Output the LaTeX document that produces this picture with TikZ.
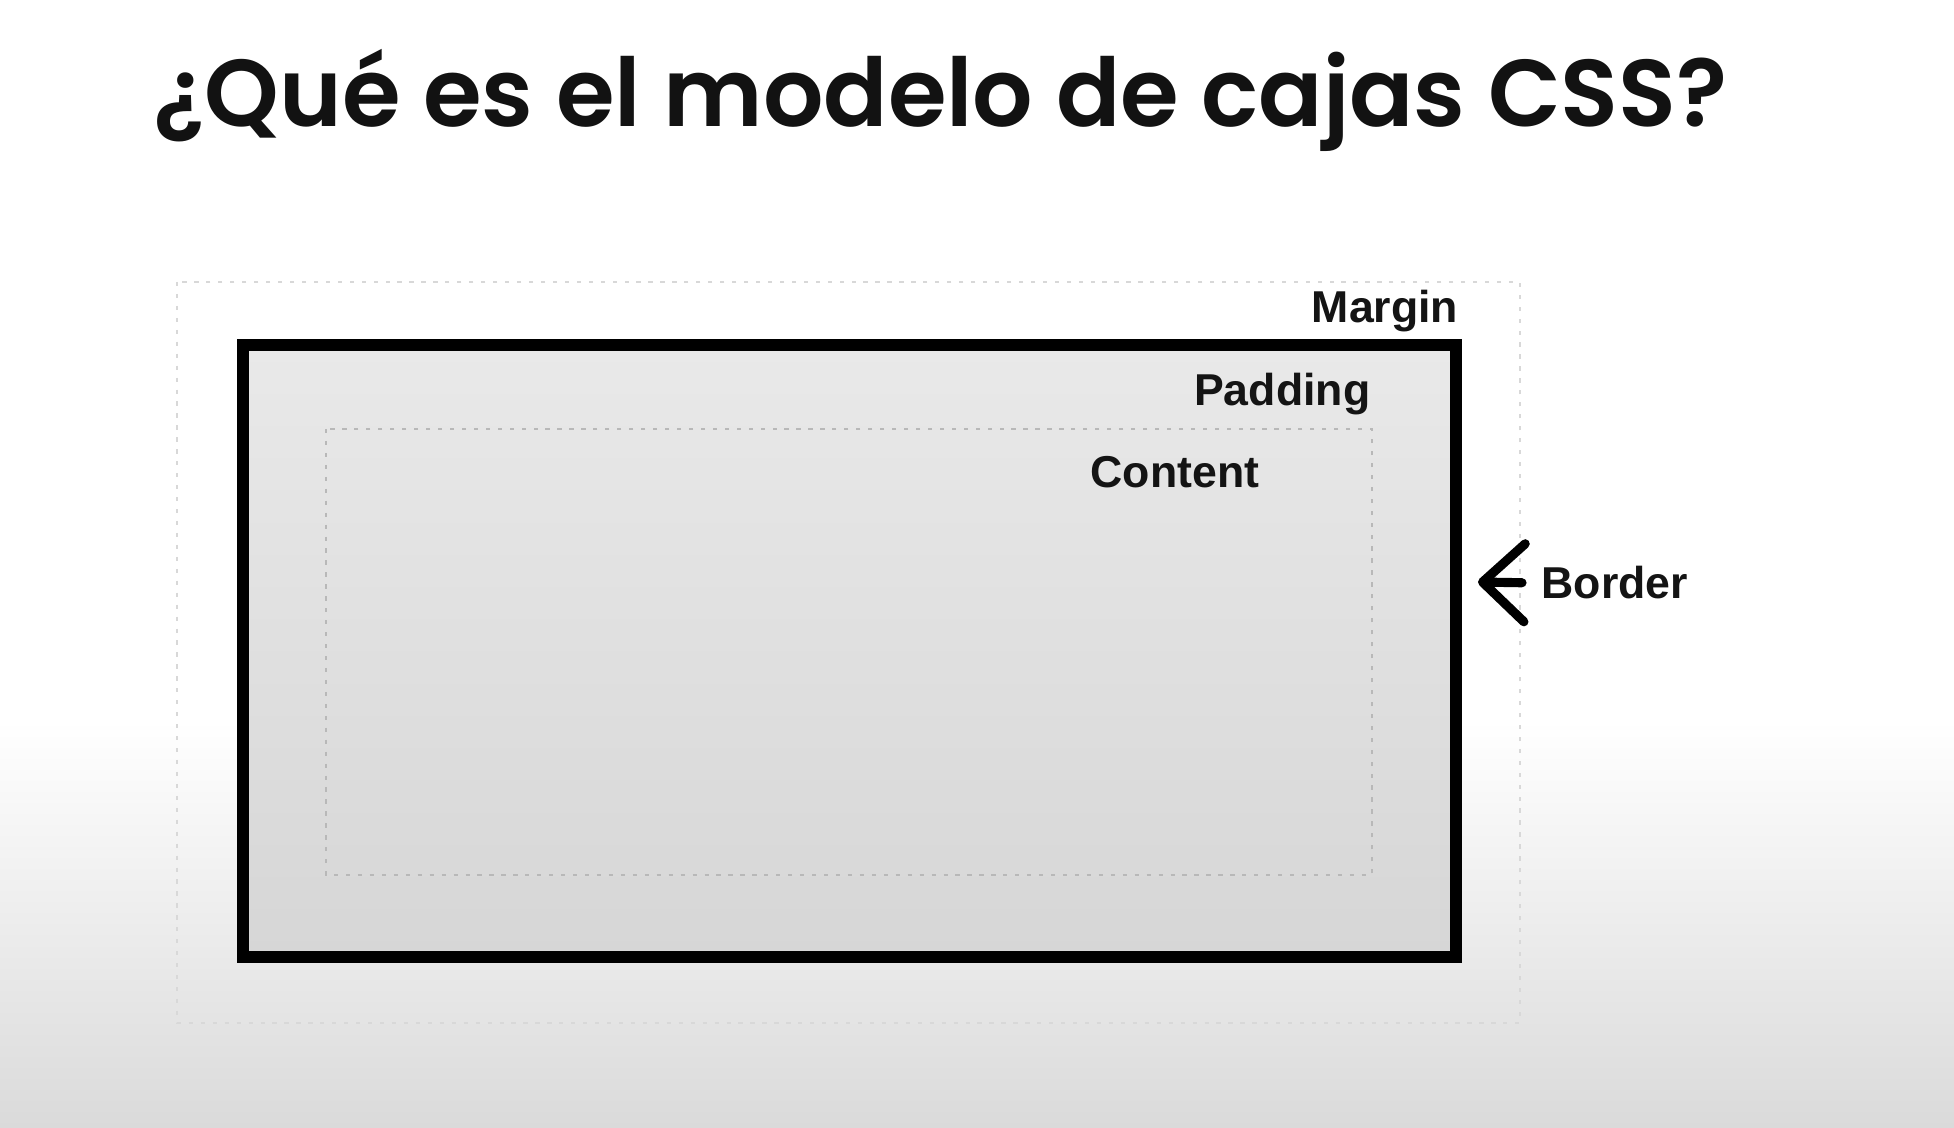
\documentclass[tikz,border=0pt]{standalone}
\usepackage{fontspec}
\newfontfamily\titlefont{Poppins}[BoldFont={Poppins SemiBold}]
\newfontfamily\labelfont{Liberation Sans}
\usetikzlibrary{arrows.meta}
\definecolor{bgbottom}{HTML}{DADADA}
\definecolor{boxtop}{HTML}{E9E9E9}
\definecolor{boxbottom}{HTML}{D6D6D6}
\definecolor{dotgray}{HTML}{B8B8B8}

\begin{document}
\begin{tikzpicture}[x=0.1mm, y=-0.1mm, line width=1pt,
        boxlabel/.style={font=\labelfont\bfseries\fontsize{12.7}{15}\selectfont, inner sep=0pt, text=black!92},
        dotbox/.style={line width=0.7pt, dash pattern=on 1.2pt off 2.2pt}]
    % draw page background
    \useasboundingbox (0, 0) rectangle (1954, 1128);
    \fill[white] (0, 0) rectangle (1954, 1128);
    \shade[top color=white, bottom color=bgbottom] (0, 720) rectangle (1954, 1128);

    % draw title
    \node[anchor=base west, inner sep=0pt, text=black!93,
          font=\titlefont\bfseries\fontsize{27}{32}\selectfont] (title) at (152, 127)
        {¿Qué es el modelo de cajas CSS?};

    % draw margin box
    \draw[dotbox, color=dotgray!55] (177, 282) rectangle (1520, 1023);

    % draw shaded border box
    \node[draw=black, line width=3.6pt, top color=boxtop, bottom color=boxbottom,
          minimum width=12.13cm, minimum height=6.12cm, inner sep=0pt] (border) at (849.5, 651) {};

    % draw content box
    \draw[dotbox, color=dotgray] (326, 429) rectangle (1372, 875);

    % draw labels
    \node[boxlabel, anchor=base east] (margin)  at (1460, 323) {Margin};
    \node[boxlabel, anchor=base east] (padding) at (1372, 406) {Padding};
    \node[boxlabel, anchor=base east] (content) at (1261, 488) {Content};
    \node[boxlabel, anchor=base west] (borderlabel) at (1540, 599) {Border};

    % draw arrow to border
    \coordinate (bordertip) at (1478, 582);
    \draw[line width=2.6pt, line cap=round, shorten <=1.8mm,
          -{Straight Barb[length=4.2mm, width=7.8mm, line cap=round, line join=round]}]
        (borderlabel.west) -- (bordertip);
\end{tikzpicture}
\end{document}
